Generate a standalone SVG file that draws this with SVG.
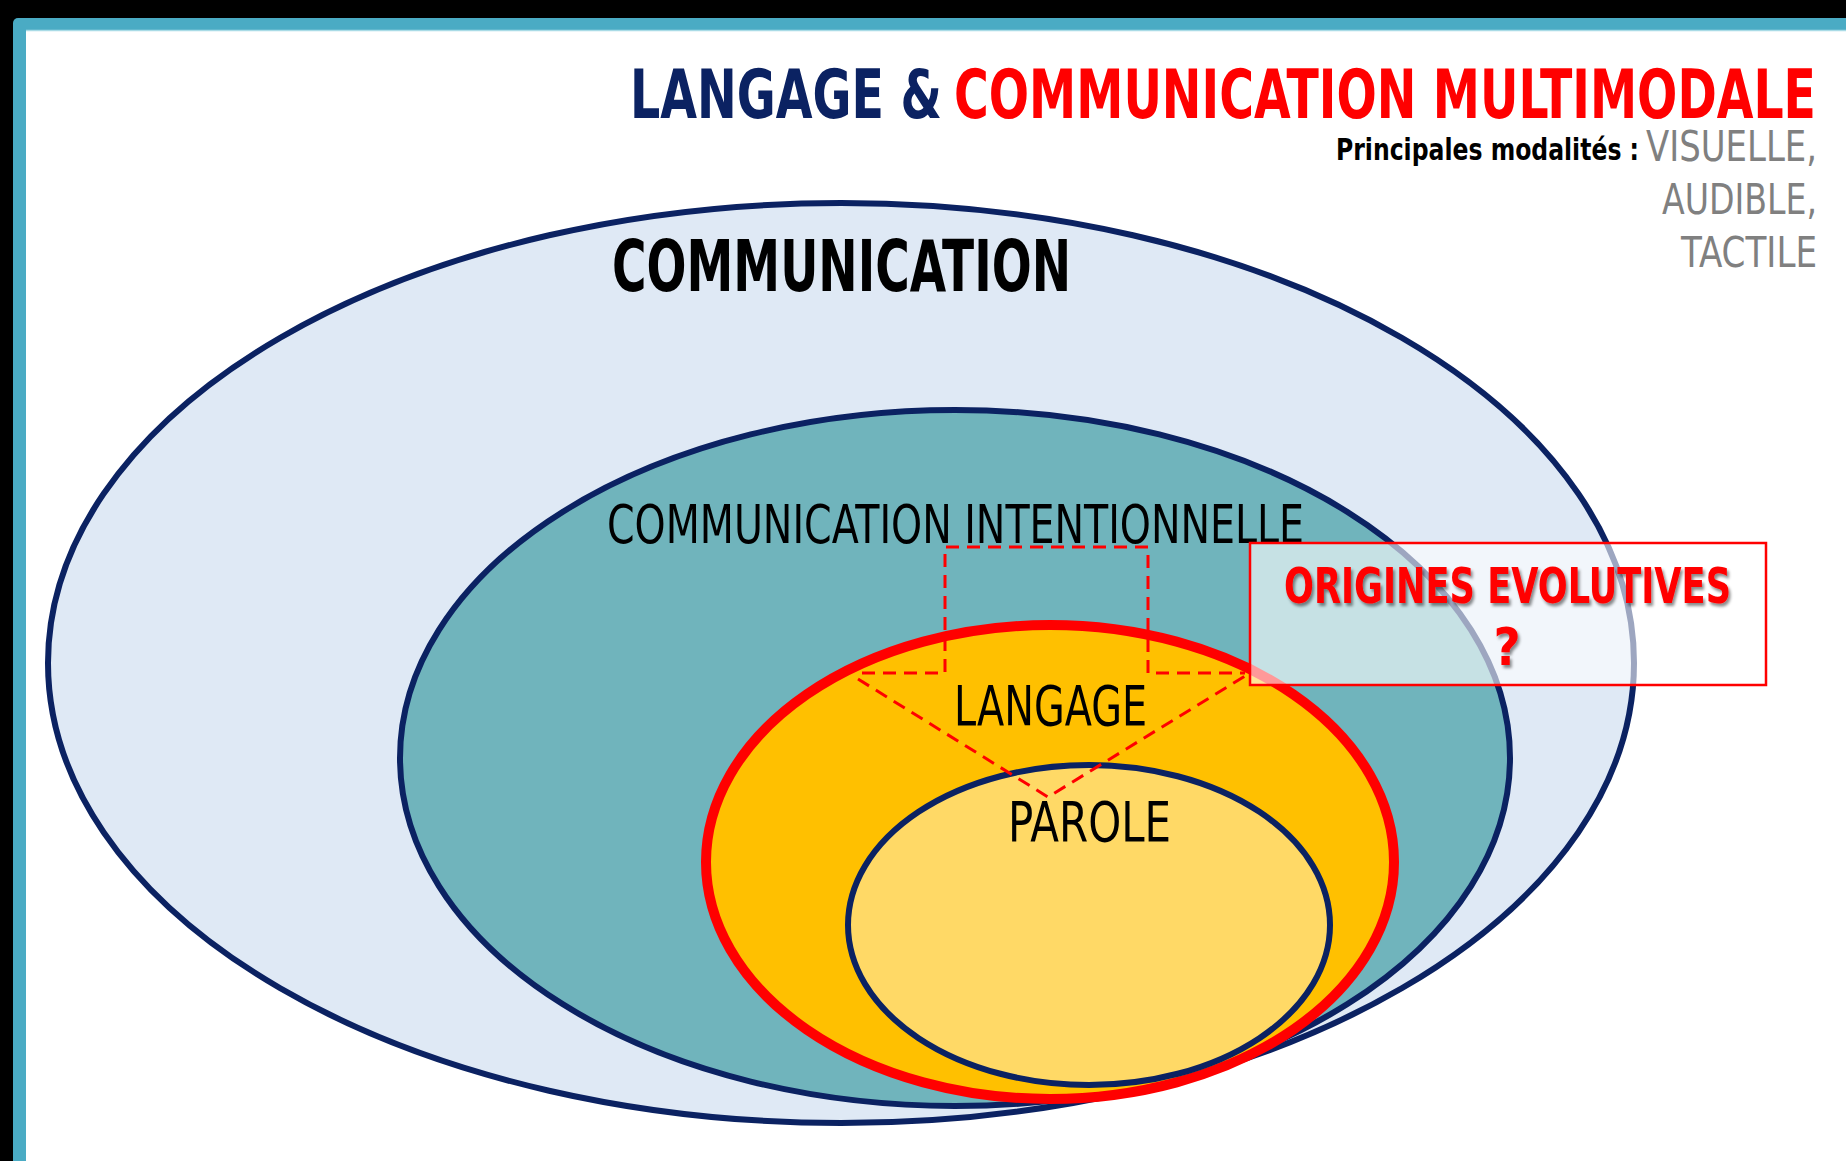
<svg xmlns="http://www.w3.org/2000/svg" width="1846" height="1161" viewBox="0 0 1846 1161">
<style>
.cond{font-family:"DejaVu Sans Condensed","Liberation Sans Narrow","DejaVu Sans",sans-serif;}
.b{font-weight:bold;}
.navy{stroke:#0b2262;fill:none;stroke-width:6;}
.lbl{fill:#000;}
</style>
<defs>
<filter id="sh" x="-5%" y="-20%" width="110%" height="150%">
<feDropShadow dx="2" dy="3" stdDeviation="1.5" flood-color="#000" flood-opacity="0.45"/>
</filter>
</defs>
<rect x="0" y="0" width="1846" height="1161" fill="#000"/>
<rect x="13" y="18" width="1840" height="1150" rx="5" fill="#4aabc4"/>
<rect x="26" y="30" width="1820" height="1131" fill="#fff"/>
<line x1="26" y1="30.5" x2="1846" y2="30.5" stroke="#a9dbe6" stroke-width="1.5"/>

<g id="title">
<text class="cond b" x="630" y="118" font-size="68" fill="#0b2262" textLength="312" lengthAdjust="spacingAndGlyphs">LANGAGE &amp;</text>
<text class="cond b" x="954" y="118" font-size="68" fill="#ff0000" textLength="862" lengthAdjust="spacingAndGlyphs">COMMUNICATION MULTIMODALE</text>
</g>
<g id="modalites">
<text class="cond b" x="1336" y="160" font-size="30" fill="#000" textLength="303" lengthAdjust="spacingAndGlyphs">Principales modalités :</text>
<text class="cond" x="1646" y="161" font-size="42" fill="#808080" textLength="171" lengthAdjust="spacingAndGlyphs">VISUELLE,</text>
<text class="cond" x="1662" y="214" font-size="42" fill="#808080" textLength="155" lengthAdjust="spacingAndGlyphs">AUDIBLE,</text>
<text class="cond" x="1681" y="267" font-size="42" fill="#808080" textLength="136" lengthAdjust="spacingAndGlyphs">TACTILE</text>
</g>

<g id="communication">
<ellipse cx="841" cy="663" rx="793" ry="460" class="navy" style="fill:#dfe9f5"/>
<text class="cond b" x="612" y="291" font-size="71" fill="#000" textLength="459" lengthAdjust="spacingAndGlyphs">COMMUNICATION</text>
</g>
<g id="intentionnelle">
<ellipse cx="955" cy="758" rx="555" ry="348" class="navy" style="fill:#70b4bc"/>
<text class="cond" x="607" y="543" font-size="53" fill="#000" textLength="697" lengthAdjust="spacingAndGlyphs">COMMUNICATION INTENTIONNELLE</text>
</g>
<g id="langage">
<ellipse cx="1050" cy="862" rx="344" ry="237" fill="#ffc000" stroke="#ff0000" stroke-width="10"/>
</g>
<g id="parole">
<ellipse cx="1089" cy="925" rx="241" ry="160" class="navy" style="fill:#ffd966"/>
</g>

<g id="connectors" fill="none" stroke="#ff0000" stroke-width="3" stroke-dasharray="13 8">
<path d="M862 673 H945 V547 H1148 V673 H1245"/>
<path d="M858 679 L1048 797 L1245 676"/>
</g>

<g id="labels">
<text class="cond" x="954" y="725" font-size="55" fill="#000" textLength="193" lengthAdjust="spacingAndGlyphs">LANGAGE</text>
<text class="cond" x="1008" y="841" font-size="55" fill="#000" textLength="163" lengthAdjust="spacingAndGlyphs">PAROLE</text>
</g>

<g id="origines">
<rect x="1250" y="543" width="516" height="142" fill="#ffffff" fill-opacity="0.6" stroke="#ff0000" stroke-width="2.5"/>
<g filter="url(#sh)">
<text class="cond b" x="1284" y="603" font-size="50" fill="#ff0000" textLength="447" lengthAdjust="spacingAndGlyphs">ORIGINES EVOLUTIVES</text>
<text class="cond b" x="1507" y="665" font-size="52" fill="#ff0000" text-anchor="middle">?</text>
</g>
</g>
</svg>
